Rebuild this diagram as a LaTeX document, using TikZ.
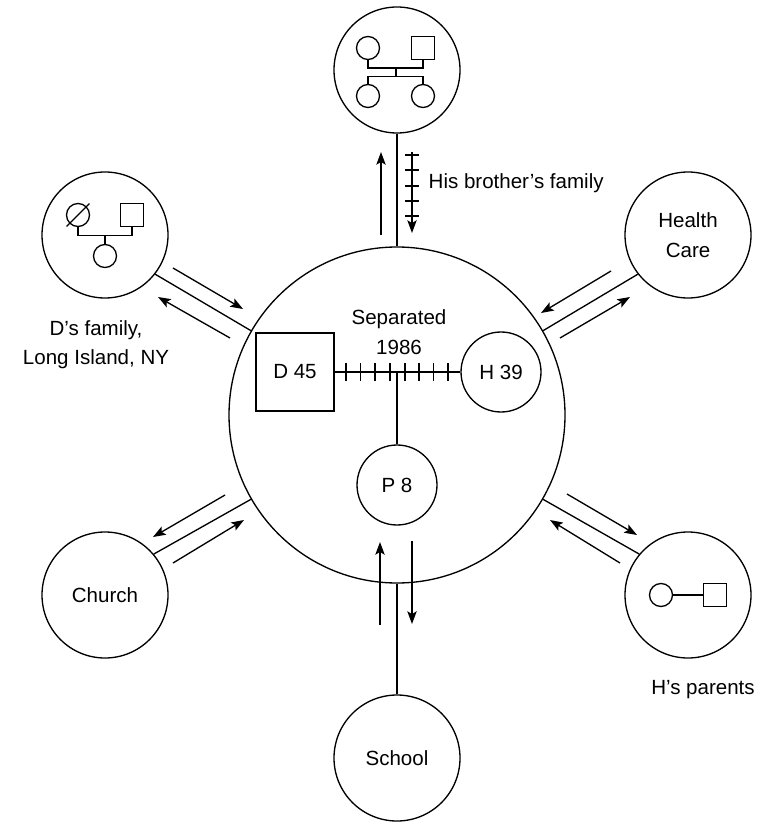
\documentclass[tikz,border=0pt]{standalone}
\usepackage{fontspec}
\setmainfont{Liberation Sans}
\usetikzlibrary{arrows.meta}

\tikzset{every picture/.style={line width=1pt}}
\tikzset{
  txt/.style={inner sep=0.75pt,align=center,font=\fontsize{15.4}{22}\selectfont},
  ring/.style={circle,draw,inner sep=0pt,minimum size=94.5pt,txt},
  gcirc/.style={circle,draw,inner sep=0pt,minimum size=17.25pt},
  gsq/.style={rectangle,draw,inner sep=0pt,minimum size=17.25pt},
  flow/.style={-{Stealth[length=9.5pt,width=7pt,inset=2pt]}}
}

\begin{document}
\begin{tikzpicture}[x=0.75pt,y=0.75pt,yscale=-1,xscale=1]
\useasboundingbox (0,0) rectangle (759,823);

%Shape: Circle (household)
\node [ring,minimum size=252pt] (main) at (397,415) {};

%Shape: Circle (outer systems)
\node [ring] (bro) at (397,70) {};
\node [ring] (dfam) at (105,235) {};
\node [ring] (care) at (688,235) {Health\\Care};
\node [ring] (hpar) at (688,595) {};
\node [ring] (church) at (105,595) {Church};
\node [ring] (school) at (397,758) {School};

%Genogram: brother's family
\node [gcirc] (bw) at (368,48) {};
\node [gsq] (bh) at (423,48) {};
\node [gcirc] (bk1) at (368,96) {};
\node [gcirc] (bk2) at (423,96) {};
\draw (bw.south) -- ++(0,8) -| (bh.south);
\draw (396,68) -- (396,77);
\draw (bk1.north) -- ++(0,-7.5) -| (bk2.north);

%Genogram: D's family
\node [gcirc] (dm) at (78,215) {};
\node [gsq] (df) at (132,215) {};
\node [gcirc] (dk) at (105,256) {};
\draw (dm.south) -- ++(0,8.5) -| (df.south);
\draw (105,235) -- (dk.north);
\draw [shorten <=-3pt,shorten >=-3pt] (dm.south west) -- (dm.north east);

%Genogram: H's parents
\node [gcirc] (pm) at (661,595) {};
\node [gsq] (pf) at (715,595) {};
\draw (pm) -- (pf);

%Household
\node [draw,minimum size=58.5pt,txt,inner sep=0pt] (dsq) at (295,372) {D 45};
\node [ring,minimum size=60pt] (h39) at (501,372) {H 39};
\node [ring,minimum size=60pt] (p8) at (397,485) {P 8};
\draw (dsq) -- (h39);
\draw (397,372) -- (p8);
\draw (346,363) -- ++(0,18) (360.5,363) -- ++(0,18) (375,363) -- ++(0,18) (390,363) -- ++(0,18)
      (405,363) -- ++(0,18) (419,363) -- ++(0,18) (433.5,363) -- ++(0,18) (448,363) -- ++(0,18);

%Spokes
\draw (bro) -- (main);
\draw (school) -- (main);
\draw (dfam.-38) -- (main.150);
\draw (care.218) -- (main.30);
\draw (church.40) -- (main.210);
\draw (hpar.140) -- (main.-30);

%Arrows: brother's family
\draw [flow] (381,235) -- (381,152);
\draw [flow] (412,152) -- (412,233);
\draw (405,155) -- ++(14,0) (405,170) -- ++(14,0) (405,186) -- ++(14,0) (405,201) -- ++(14,0) (405,216) -- ++(14,0);
%Arrows: D's family
\draw [flow] (173,268) -- (243,309);
\draw [flow] (230,338) -- (158,297);
%Arrows: health care
\draw [flow] (611,271) -- (541,313);
\draw [flow] (560,338) -- (630,297);
%Arrows: church
\draw [flow] (225,495) -- (153,537);
\draw [flow] (173,563) -- (244,520);
%Arrows: H's parents
\draw [flow] (567,494) -- (637,535);
\draw [flow] (620,563) -- (550,520);
%Arrows: school
\draw [flow] (380,625) -- (380,542);
\draw [flow] (412,541) -- (412,624);

% Text Node
\node [txt] (sep) at (399,332) {Separated\\1986};
% Text Node
\node [txt,anchor=west] (brolbl) at (427,183) {His brother’s family};
% Text Node
\node [txt] (dlbl) at (96,345) {D’s family,\\Long Island, NY};
% Text Node
\node [txt] (hlbl) at (703,690) {H’s parents};

\end{tikzpicture}
\end{document}
